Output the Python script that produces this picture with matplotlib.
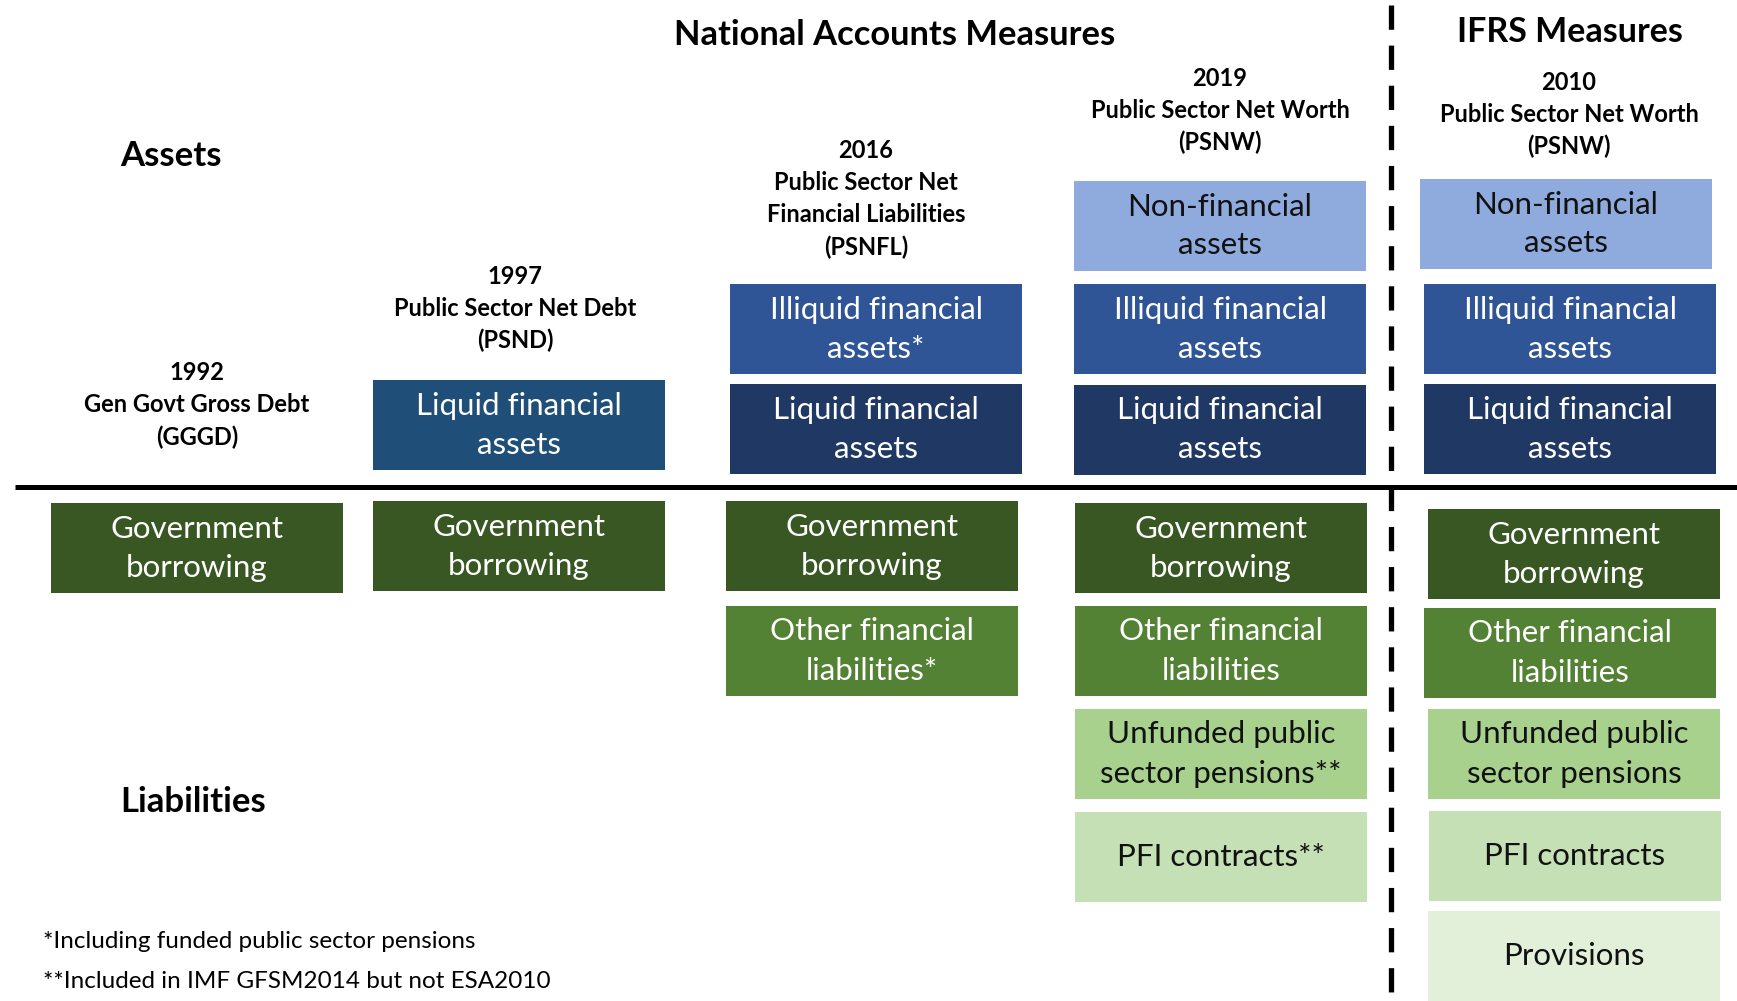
import matplotlib
matplotlib.use('Agg')
import matplotlib.pyplot as plt
from matplotlib.patches import Rectangle

plt.rcParams['font.family'] = ['Lato', 'DejaVu Sans']

# measure headers (one entry per column)
headers = [
    ['1992', 'Gen Govt Gross Debt', '(GGGD)'],
    ['1997', 'Public Sector Net Debt', '(PSND)'],
    ['2016', 'Public Sector Net', 'Financial Liabilities', '(PSNFL)'],
    ['2019', 'Public Sector Net Worth', '(PSNW)'],
    ['2010', 'Public Sector Net Worth', '(PSNW)'],
]

# asset boxes, top to bottom
assets = [
    [],
    ['Liquid financial\nassets'],
    ['Illiquid financial\nassets*', 'Liquid financial\nassets'],
    ['Non-financial\nassets', 'Illiquid financial\nassets', 'Liquid financial\nassets'],
    ['Non-financial\nassets', 'Illiquid financial\nassets', 'Liquid financial\nassets'],
]

# liability boxes, top to bottom
liabilities = [
    ['Government\nborrowing'],
    ['Government\nborrowing'],
    ['Government\nborrowing', 'Other financial\nliabilities*'],
    ['Government\nborrowing', 'Other financial\nliabilities',
     'Unfunded public\nsector pensions**', 'PFI contracts**'],
    ['Government\nborrowing', 'Other financial\nliabilities',
     'Unfunded public\nsector pensions', 'PFI contracts', 'Provisions'],
]

footnotes = ['*Including funded public sector pensions',
             '**Included in IMF GFSM2014 but not ESA2010']

# fill / text colour for each kind of box
styles = {
    'Non-financial': ('#8FAADC', '#111111'),
    'Illiquid': ('#2F5597', 'white'),
    'Liquid': ('#203864', 'white'),
    'Government': ('#385723', 'white'),
    'Other': ('#548235', 'white'),
    'Unfunded': ('#A9D18E', '#111111'),
    'PFI': ('#C5E0B4', '#111111'),
    'Provisions': ('#E2F0D9', '#111111'),
}
# the 1997 liquid assets box uses a lighter steel blue
fill_override = {(1, 'Liquid'): '#1F4E79'}

# layout in pixels (y grows downwards)
W, H = 1737, 1001
box_w, box_h = 292, 90
asset_left = [51, 373, 730, 1074, 1424]
liab_left = [51, 373, 726, 1075, 1426]
header_y = [405, 308, 199, 110, 114]
header_x = [197, 515, 866, 1220, 1569]
asset_tops = {1: [380], 2: [284, 384], 3: [181, 284, 385], 4: [179, 284, 384]}
asset_dx = {(4, 0): -4}
liab_tops = {0: [503], 1: [501], 2: [501, 606], 3: [503, 606, 709, 812],
             4: [509, 608, 709, 811, 911]}
liab_dx = {(4, 0): 2, (4, 1): -2, (4, 2): 2, (4, 3): 3, (4, 4): 2}
line_gap = 32
box_line_gap = 39

fig = plt.figure(figsize=(W / 100, H / 100), dpi=100)
ax = fig.add_axes([0, 0, 1, 1])
ax.set_xlim(0, W)
ax.set_ylim(H, 0)
ax.axis('off')


def style_for(label):
    for key, st in styles.items():
        if label.startswith(key):
            return key, st
    return None, ('#cccccc', 'black')


def draw_box(col, x, y, label):
    key, (face, tc) = style_for(label)
    face = fill_override.get((col, key), face)
    ax.add_patch(Rectangle((x, y), box_w, box_h, facecolor=face,
                           edgecolor='none'))
    lines = label.split('\n')
    cy = y + box_h / 2
    for i, ln in enumerate(lines):
        ly = cy + (i - (len(lines) - 1) / 2) * box_line_gap
        ax.text(x + box_w / 2, ly, ln, ha='center', va='center',
                fontsize=22.5, color=tc)


for c in range(len(headers)):
    lines = headers[c]
    for i, ln in enumerate(lines):
        ly = header_y[c] + (i - (len(lines) - 1) / 2) * line_gap
        ax.text(header_x[c], ly, ln, ha='center', va='center',
                fontsize=17, fontweight='bold', color='black')
    for r, (lab, top) in enumerate(zip(assets[c], asset_tops.get(c, []))):
        draw_box(c, asset_left[c] + asset_dx.get((c, r), 0), top, lab)
    for r, (lab, top) in enumerate(zip(liabilities[c], liab_tops[c])):
        draw_box(c, liab_left[c] + liab_dx.get((c, r), 0), top, lab)

# section titles
ax.text(895, 35, 'National Accounts Measures', ha='center', va='center',
        fontsize=24.8, fontweight='bold')
ax.text(1570, 32, 'IFRS Measures', ha='center', va='center',
        fontsize=24.5, fontweight='bold')
ax.text(120, 156, 'Assets', ha='left', va='center', fontsize=25,
        fontweight='bold')
ax.text(120, 802, 'Liabilities', ha='left', va='center', fontsize=25,
        fontweight='bold')

# assets / liabilities divider and the national accounts / IFRS split
ax.plot([15, W], [487, 487], color='black', lw=3.6, solid_capstyle='butt')
ax.plot([1391, 1391], [5, H], color='black', lw=3.8,
        linestyle=(0, (4.6, 3.0)))

for i, note in enumerate(footnotes):
    ax.text(43, 942 + i * 40, note, ha='left', va='center', fontsize=17.5)

fig.savefig('out.png', dpi=100)
